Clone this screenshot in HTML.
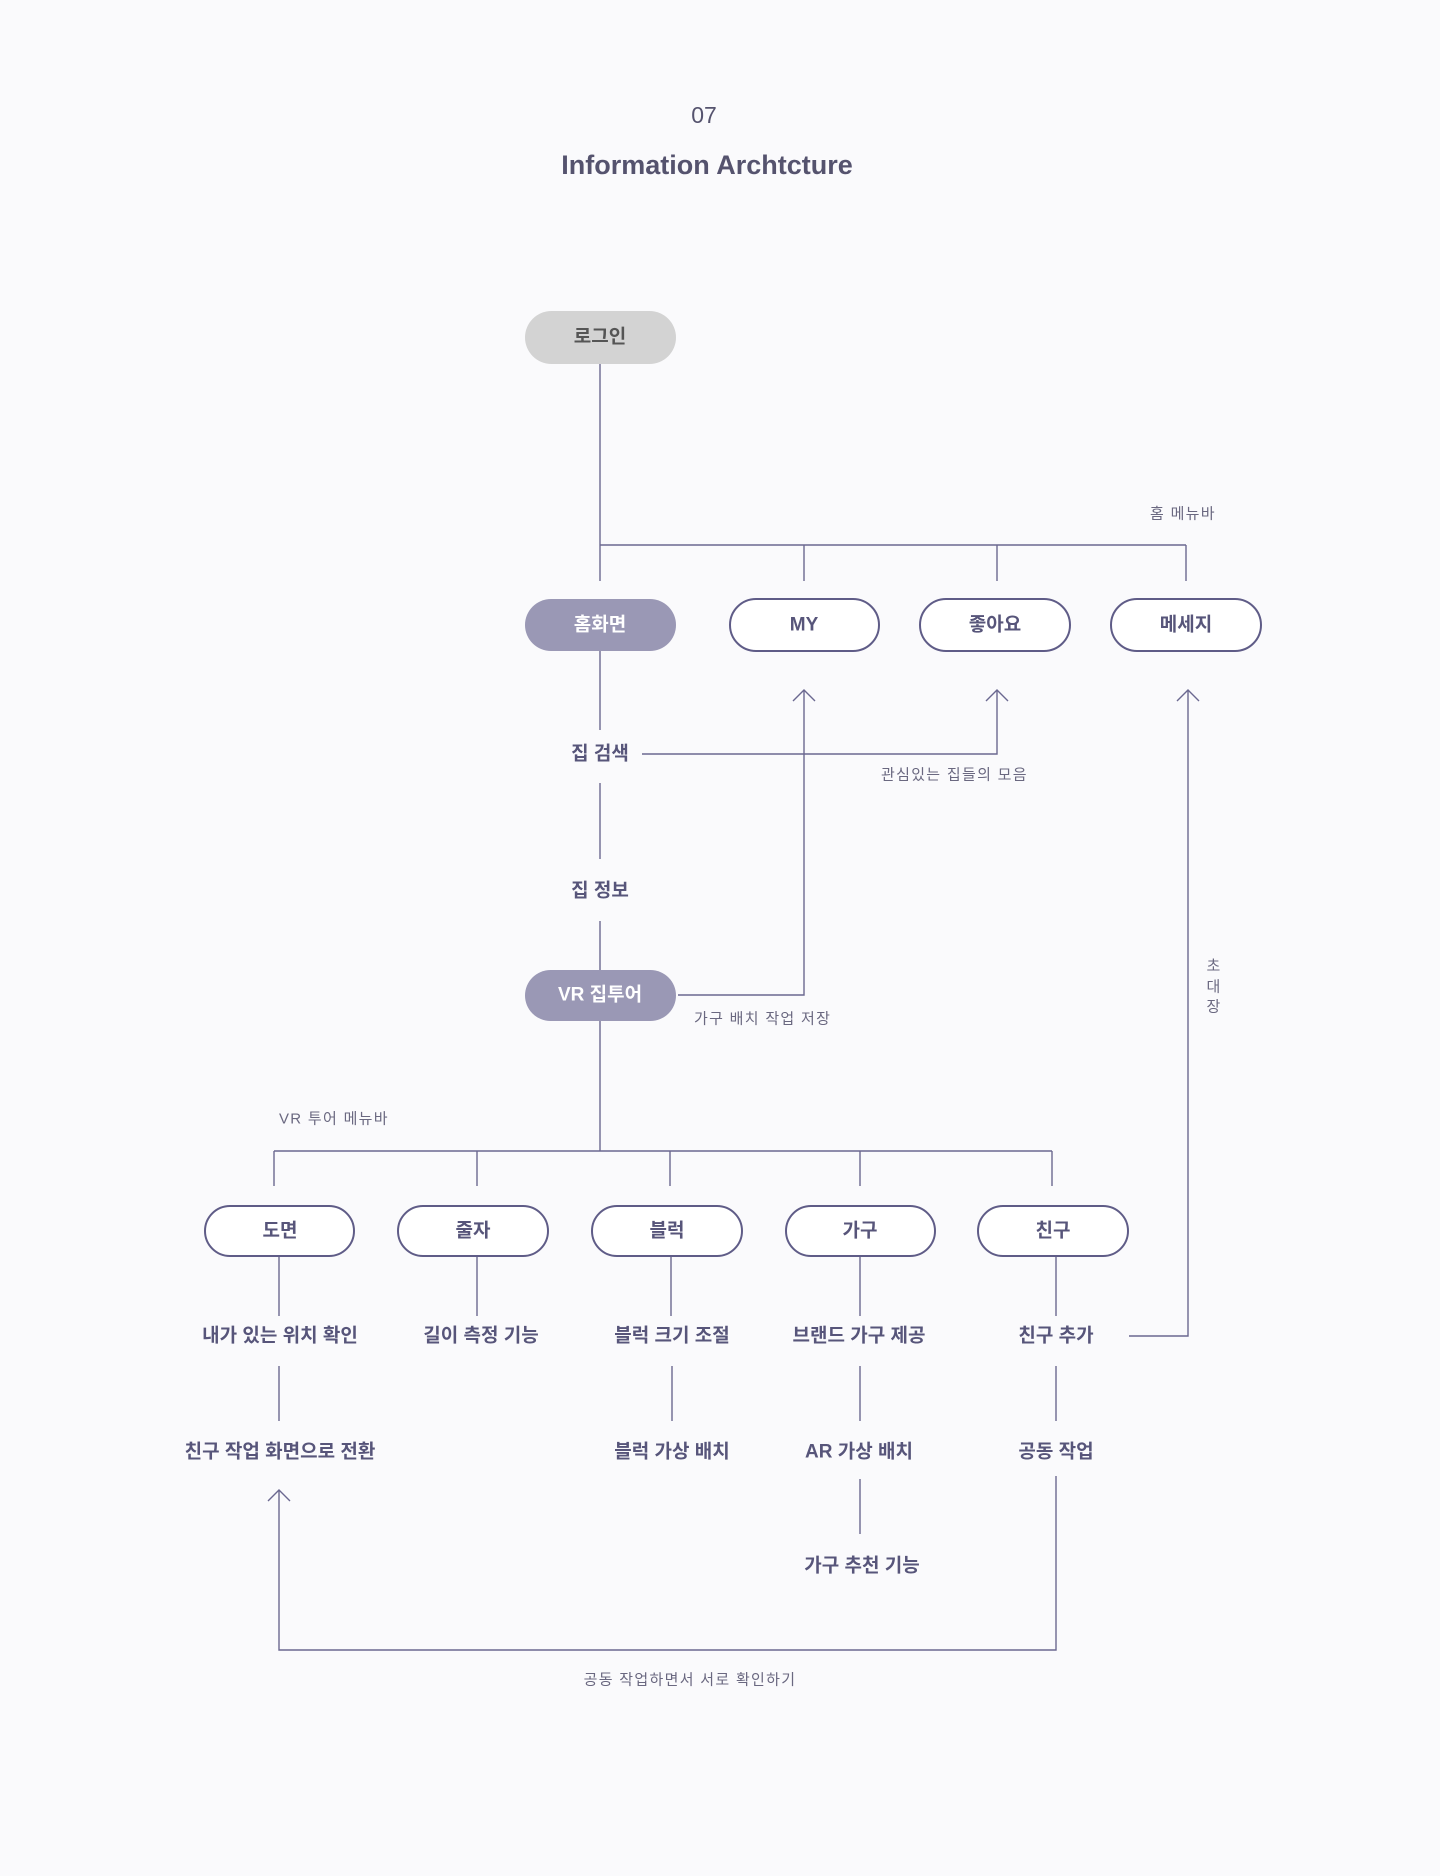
<!DOCTYPE html>
<html><head><meta charset="utf-8"><style>
html,body{margin:0;padding:0;background:#fafafc;}
svg{display:block;}
text{font-family:"Liberation Sans","Noto Sans CJK KR",sans-serif;}
.b{font-weight:bold;font-size:19px;fill:#57557a;text-anchor:middle;dominant-baseline:central;}
.s{font-size:15px;fill:#6a6880;dominant-baseline:central;letter-spacing:1.3px;}
.l{stroke:#6b6890;stroke-width:1.4;fill:none;}
.p{fill:#fff;stroke:#5f5c87;stroke-width:2;}
</style></head><body>
<svg width="1440" height="1876" viewBox="0 0 1440 1876">
<rect width="1440" height="1876" fill="#fafafc"/>
<text x="704" y="115" text-anchor="middle" dominant-baseline="central" font-size="23" fill="#55536e">07</text>
<text x="707" y="165" text-anchor="middle" dominant-baseline="central" font-size="27" font-weight="bold" fill="#55536e">Information Archtcture</text>

<g class="l">
<path d="M600 364V581M600 545H1186M804 545V581M997 545V581M1186 545V581"/>
<path d="M600 651V730M642 754H997V690M600 783V859M600 921V970"/>
<path d="M678 995H804V690"/>
<path d="M600 1021V1151M274 1151H1052M274 1151V1186M477 1151V1186M670 1151V1186M860 1151V1186M1052 1151V1186"/>
<path d="M279 1256V1316M477 1256V1316M671 1256V1316M860 1256V1316M1056 1256V1316"/>
<path d="M1129 1336H1188V690"/>
<path d="M279 1366V1421M672 1366V1421M860 1366V1421M1056 1366V1421"/>
<path d="M860 1479V1534"/>
<path d="M1056 1476V1650H279V1490"/>
<path d="M793 701L804 690L815 701M986 701L997 690L1008 701M1177 701L1188 690L1199 701M268 1501L279 1490L290 1501"/>
</g>

<rect x="525" y="311" width="151" height="53" rx="26.5" fill="#d3d3d3"/>
<text x="600" y="337" class="b" style="fill:#555">로그인</text>

<rect x="525" y="599" width="151" height="52" rx="26" fill="#9a98b5"/>
<text x="600" y="625" class="b" style="fill:#fff">홈화면</text>
<rect x="730" y="599" width="149" height="52" rx="26" class="p"/>
<text x="804" y="625" class="b">MY</text>
<rect x="920" y="599" width="150" height="52" rx="26" class="p"/>
<text x="995" y="625" class="b">좋아요</text>
<rect x="1111" y="599" width="150" height="52" rx="26" class="p"/>
<text x="1186" y="625" class="b">메세지</text>
<text x="1150" y="514" class="s">홈 메뉴바</text>

<text x="600" y="754" class="b">집 검색</text>
<text x="881" y="775" class="s">관심있는 집들의 모음</text>
<text x="600" y="891" class="b">집 정보</text>
<rect x="525" y="970" width="151" height="51" rx="25.5" fill="#9a98b5"/>
<text x="600" y="995" class="b" style="fill:#fff">VR 집투어</text>
<text x="694" y="1019" class="s">가구 배치 작업 저장</text>

<text x="1214" y="966" class="s" text-anchor="middle">초</text>
<text x="1214" y="987" class="s" text-anchor="middle">대</text>
<text x="1214" y="1007" class="s" text-anchor="middle">장</text>

<text x="279" y="1119" class="s">VR 투어 메뉴바</text>

<rect x="205" y="1206" width="149" height="50" rx="25" class="p"/>
<text x="280" y="1231" class="b">도면</text>
<rect x="398" y="1206" width="150" height="50" rx="25" class="p"/>
<text x="473" y="1231" class="b">줄자</text>
<rect x="592" y="1206" width="150" height="50" rx="25" class="p"/>
<text x="667" y="1231" class="b">블럭</text>
<rect x="786" y="1206" width="149" height="50" rx="25" class="p"/>
<text x="860" y="1231" class="b">가구</text>
<rect x="978" y="1206" width="150" height="50" rx="25" class="p"/>
<text x="1053" y="1231" class="b">친구</text>

<text x="280" y="1336" class="b">내가 있는 위치 확인</text>
<text x="481" y="1336" class="b">길이 측정 기능</text>
<text x="672" y="1336" class="b">블럭 크기 조절</text>
<text x="859" y="1336" class="b">브랜드 가구 제공</text>
<text x="1056" y="1336" class="b">친구 추가</text>

<text x="280" y="1452" class="b">친구 작업 화면으로 전환</text>
<text x="672" y="1452" class="b">블럭 가상 배치</text>
<text x="859" y="1452" class="b">AR 가상 배치</text>
<text x="1056" y="1452" class="b">공동 작업</text>
<text x="862" y="1566" class="b">가구 추천 기능</text>

<text x="690" y="1680" class="s" text-anchor="middle">공동 작업하면서 서로 확인하기</text>
</svg>
</body></html>
